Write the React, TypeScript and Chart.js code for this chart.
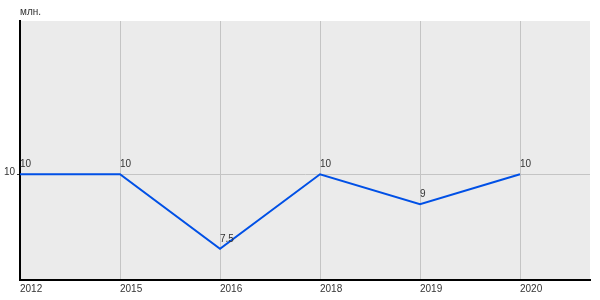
import React, { useEffect, useRef } from "react";
import { Chart, registerables } from "chart.js";

Chart.register(...registerables);

const categories = ["2012", "2015", "2016", "2018", "2019", "2020"];
const values = [10, 10, 7.5, 10, 9, 10];
const yTicks = [10];
const unitLabel = "млн.";

const FONT = "'Liberation Sans', Arial, sans-serif";

export default function App() {
  const ref = useRef<HTMLCanvasElement | null>(null);
  useEffect(() => {
    if (!ref.current) return;
    const bgPlugin = {
      id: "bg",
      beforeDraw(chart: any) {
        const { ctx, chartArea } = chart;
        ctx.save();
        ctx.fillStyle = "#ebebeb";
        ctx.fillRect(chartArea.left, chartArea.top, chartArea.right - chartArea.left, chartArea.bottom - chartArea.top);
        ctx.restore();
      },
      afterDraw(chart: any) {
        const { ctx, chartArea } = chart;
        ctx.save();
        ctx.fillStyle = "#333";
        ctx.font = `10px ${FONT}`;
        ctx.textAlign = "left";
        ctx.textBaseline = "alphabetic";
        ctx.fillText(unitLabel, chartArea.left, 15);
        const meta = chart.getDatasetMeta(0);
        meta.data.forEach((pt: any, i: number) => {
          ctx.fillText(String(values[i]), pt.x, pt.y - 7);
        });
        ctx.restore();
      },
    };
    const chart = new Chart(ref.current, {
      type: "line",
      data: {
        datasets: [
          {
            data: values.map((v, i) => ({ x: i, y: v })),
            borderColor: "#0050e6",
            borderWidth: 2,
            pointRadius: 0,
            tension: 0,
          },
        ],
      },
      options: {
        animation: false,
        responsive: false,
        layout: { padding: { top: 21, right: 10, left: 0, bottom: 0 } },
        plugins: { legend: { display: false }, tooltip: { enabled: false } },
        scales: {
          x: {
            type: "linear",
            min: 0,
            max: 5.7,
            afterFit(scale: any) {
              scale.height = 20;
            },
            ticks: {
              stepSize: 1,
              includeBounds: false,
              align: "start",
              padding: 3,
              color: "#333",
              font: { family: FONT, size: 10 },
              maxRotation: 0,
              autoSkip: false,
              callback: (v: any) => (Number.isInteger(v) ? categories[v] ?? "" : ""),
            },
            grid: { color: "#c4c4c4", lineWidth: 1, drawTicks: false },
            border: { display: true, color: "#000", width: 2 },
          },
          y: {
            min: 6.45,
            max: 15.15,
            afterFit(scale: any) {
              scale.width = 20;
            },
            afterBuildTicks(scale: any) {
              scale.ticks = yTicks.map((v) => ({ value: v }));
            },
            ticks: {
              padding: 2,
              labelOffset: -2,
              color: "#333",
              font: { family: FONT, size: 10 },
            },
            grid: { color: "#c4c4c4", lineWidth: 1, drawTicks: true, tickLength: 3, tickColor: "#333" },
            border: { display: true, color: "#000", width: 2 },
          },
        },
      },
      plugins: [bgPlugin],
    });
    return () => chart.destroy();
  }, []);
  return (
    <div style={{ position: "absolute", left: 0, top: 0, width: 600, height: 300 }}>
      <canvas ref={ref} width={600} height={300} style={{ width: 600, height: 300 }} />
    </div>
  );
}
